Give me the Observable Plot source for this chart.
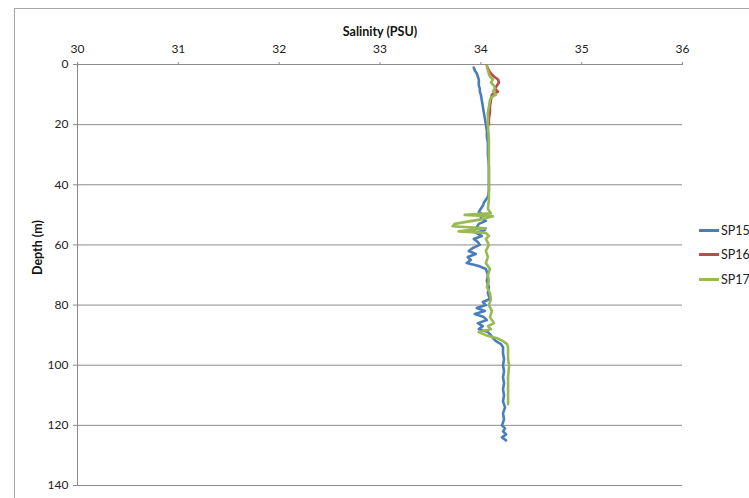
<!DOCTYPE html>
<html>
<head>
<meta charset="utf-8">
<script src="https://cdn.jsdelivr.net/npm/d3@7"></script>
<script src="https://cdn.jsdelivr.net/npm/@observablehq/plot@0.6"></script>
<style>
  html, body { margin: 0; padding: 0; background: #fff; overflow: hidden; }
  #wrap { position: relative; width: 749px; height: 498px; overflow: hidden; font-family: Lato, "Open Sans", sans-serif; }
  #frame { position: absolute; left: 14px; top: 8px; width: 800px; height: 600px; border-left: 1px solid #a6a6a6; border-top: 1px solid #a6a6a6; }
  #legend { position: absolute; left: 699px; top: 218px; font-size: 12.5px; color: #222; white-space: nowrap; }
  #legend .item { display: flex; align-items: center; height: 24.5px; }
  #legend .sw { width: 20px; height: 3px; margin-right: 2px; }
</style>
</head>
<body>
<div id="wrap"><div id="frame"></div><div id="chart"></div><div id="legend"></div></div>
<script>
// Series names and colours
const seriesNames = ["SP15", "SP16", "SP17"];
const seriesColors = ["#4A7EBB", "#BE4B48", "#98B954"];

// Axis ticks
const salinityTicks = [30, 31, 32, 33, 34, 35, 36];
const depthTicks = [0, 20, 40, 60, 80, 100, 120, 140];

// SP15 profile
const sp15Depth = [1, 2, 3, 4, 5, 6, 7, 8, 9, 10, 12, 14, 16, 18, 20, 22, 24, 26, 30, 34, 38, 42, 44, 45, 46, 47, 48, 49, 50, 51, 52, 53, 54, 55, 56, 57, 58, 59, 60, 61, 62, 63, 64, 65, 66, 67, 68, 70, 72, 74, 76, 78, 79, 80, 81, 82, 83, 84, 85, 86, 87, 88, 89, 90, 91, 92, 93, 94, 96, 98, 100, 102, 104, 106, 108, 110, 112, 114, 116, 118, 120, 121, 122, 123, 124, 125];
const sp15Sal = [33.93, 33.94, 33.96, 33.97, 33.98, 33.98, 33.98, 33.99, 33.99, 34.00, 34.01, 34.02, 34.03, 34.04, 34.05, 34.06, 34.06, 34.07, 34.07, 34.08, 34.08, 34.08, 34.07, 34.05, 34.03, 34.02, 34.00, 33.98, 34.02, 34.00, 34.05, 33.98, 33.96, 34.04, 33.95, 34.01, 33.93, 33.97, 33.99, 33.92, 33.88, 33.95, 33.87, 33.90, 33.86, 33.98, 34.05, 34.07, 34.06, 34.08, 34.07, 34.09, 34.02, 34.05, 33.96, 34.04, 33.94, 34.03, 34.06, 33.97, 34.02, 33.98, 34.07, 34.10, 34.12, 34.15, 34.20, 34.22, 34.22, 34.23, 34.22, 34.23, 34.22, 34.23, 34.22, 34.23, 34.22, 34.24, 34.22, 34.23, 34.21, 34.24, 34.22, 34.25, 34.21, 34.25];

// SP16 profile
const sp16Depth = [0.5, 2, 3, 4, 5, 6, 7, 8, 9, 10, 12, 14, 16, 18, 20];
const sp16Sal = [34.06, 34.08, 34.10, 34.13, 34.17, 34.18, 34.16, 34.14, 34.17, 34.11, 34.10, 34.09, 34.09, 34.08, 34.08];

// SP17 profile
const sp17Depth = [0.5, 2, 4, 5, 6, 7, 8, 9, 10, 11, 12, 14, 16, 18, 20, 25, 30, 35, 40, 45, 48, 49.5, 50, 50.5, 51.5, 53, 53.8, 54.5, 55.5, 56, 57, 58, 60, 62, 64, 66, 68, 70, 72, 74, 76, 78, 80, 82, 84, 86, 87, 88, 89, 90, 91, 92, 93, 94, 96, 98, 100, 104, 108, 112, 113];
const sp17Sal = [34.06, 34.07, 34.09, 34.12, 34.10, 34.13, 34.14, 34.12, 34.15, 34.10, 34.09, 34.08, 34.07, 34.07, 34.07, 34.08, 34.08, 34.08, 34.08, 34.08, 34.07, 34.10, 33.84, 34.12, 34.00, 33.74, 33.72, 34.05, 33.78, 34.05, 34.08, 34.05, 34.08, 34.05, 34.07, 34.05, 34.09, 34.07, 34.08, 34.06, 34.09, 34.10, 34.08, 34.11, 34.09, 34.13, 34.07, 34.10, 33.98, 34.05, 34.16, 34.22, 34.26, 34.27, 34.27, 34.27, 34.28, 34.27, 34.27, 34.27, 34.27];

const toRows = (depths, sals, name) => depths.map((d, i) => ({depth: d, sal: sals[i], series: name}));
const series = [
  toRows(sp15Depth, sp15Sal, seriesNames[0]),
  toRows(sp16Depth, sp16Sal, seriesNames[1]),
  toRows(sp17Depth, sp17Sal, seriesNames[2])
];

const grid = "#8c8c8c";
const plot = Plot.plot({
  width: 749,
  height: 498,
  marginLeft: 77,
  marginRight: 67,
  marginTop: 64,
  marginBottom: 13,
  style: {fontFamily: "Lato, 'Open Sans', sans-serif", fontSize: "12px", color: "#222", background: "transparent", overflow: "visible"},
  x: {domain: [30, 36], axis: null},
  y: {domain: [0, 140], reverse: true, axis: null},
  marks: [
    Plot.gridY(depthTicks.slice(1), {stroke: grid, strokeOpacity: 1, strokeWidth: 1}),
    Plot.ruleX([30], {stroke: grid, strokeWidth: 1}),
    Plot.ruleY([0], {stroke: grid, strokeWidth: 1}),
    Plot.axisX(salinityTicks, {anchor: "top", tickSize: 3, tickPadding: 9, stroke: grid, label: null, fontSize: 12}),
    Plot.axisY(depthTicks, {anchor: "left", tickSize: 4, tickPadding: 5, stroke: grid, label: null, fontSize: 12}),
    ...series.map((rows, i) => Plot.line(rows, {x: "sal", y: "depth", stroke: seriesColors[i], strokeWidth: 2.6, curve: "linear"})),
    Plot.text(["Salinity (PSU)"], {frameAnchor: "top", dy: -37, fontWeight: "bold", fontSize: 12.5, fill: "#111"}),
    Plot.text(["Depth (m)"], {frameAnchor: "left", dx: -40, rotate: -90, fontWeight: "bold", fontSize: 12.5, fill: "#111"})
  ]
});
document.getElementById("chart").appendChild(plot);

const legend = d3.select("#legend");
seriesNames.forEach((name, i) => {
  const item = legend.append("div").attr("class", "item");
  item.append("div").attr("class", "sw").style("background", seriesColors[i]);
  item.append("span").text(name);
});
</script>
</body>
</html>
